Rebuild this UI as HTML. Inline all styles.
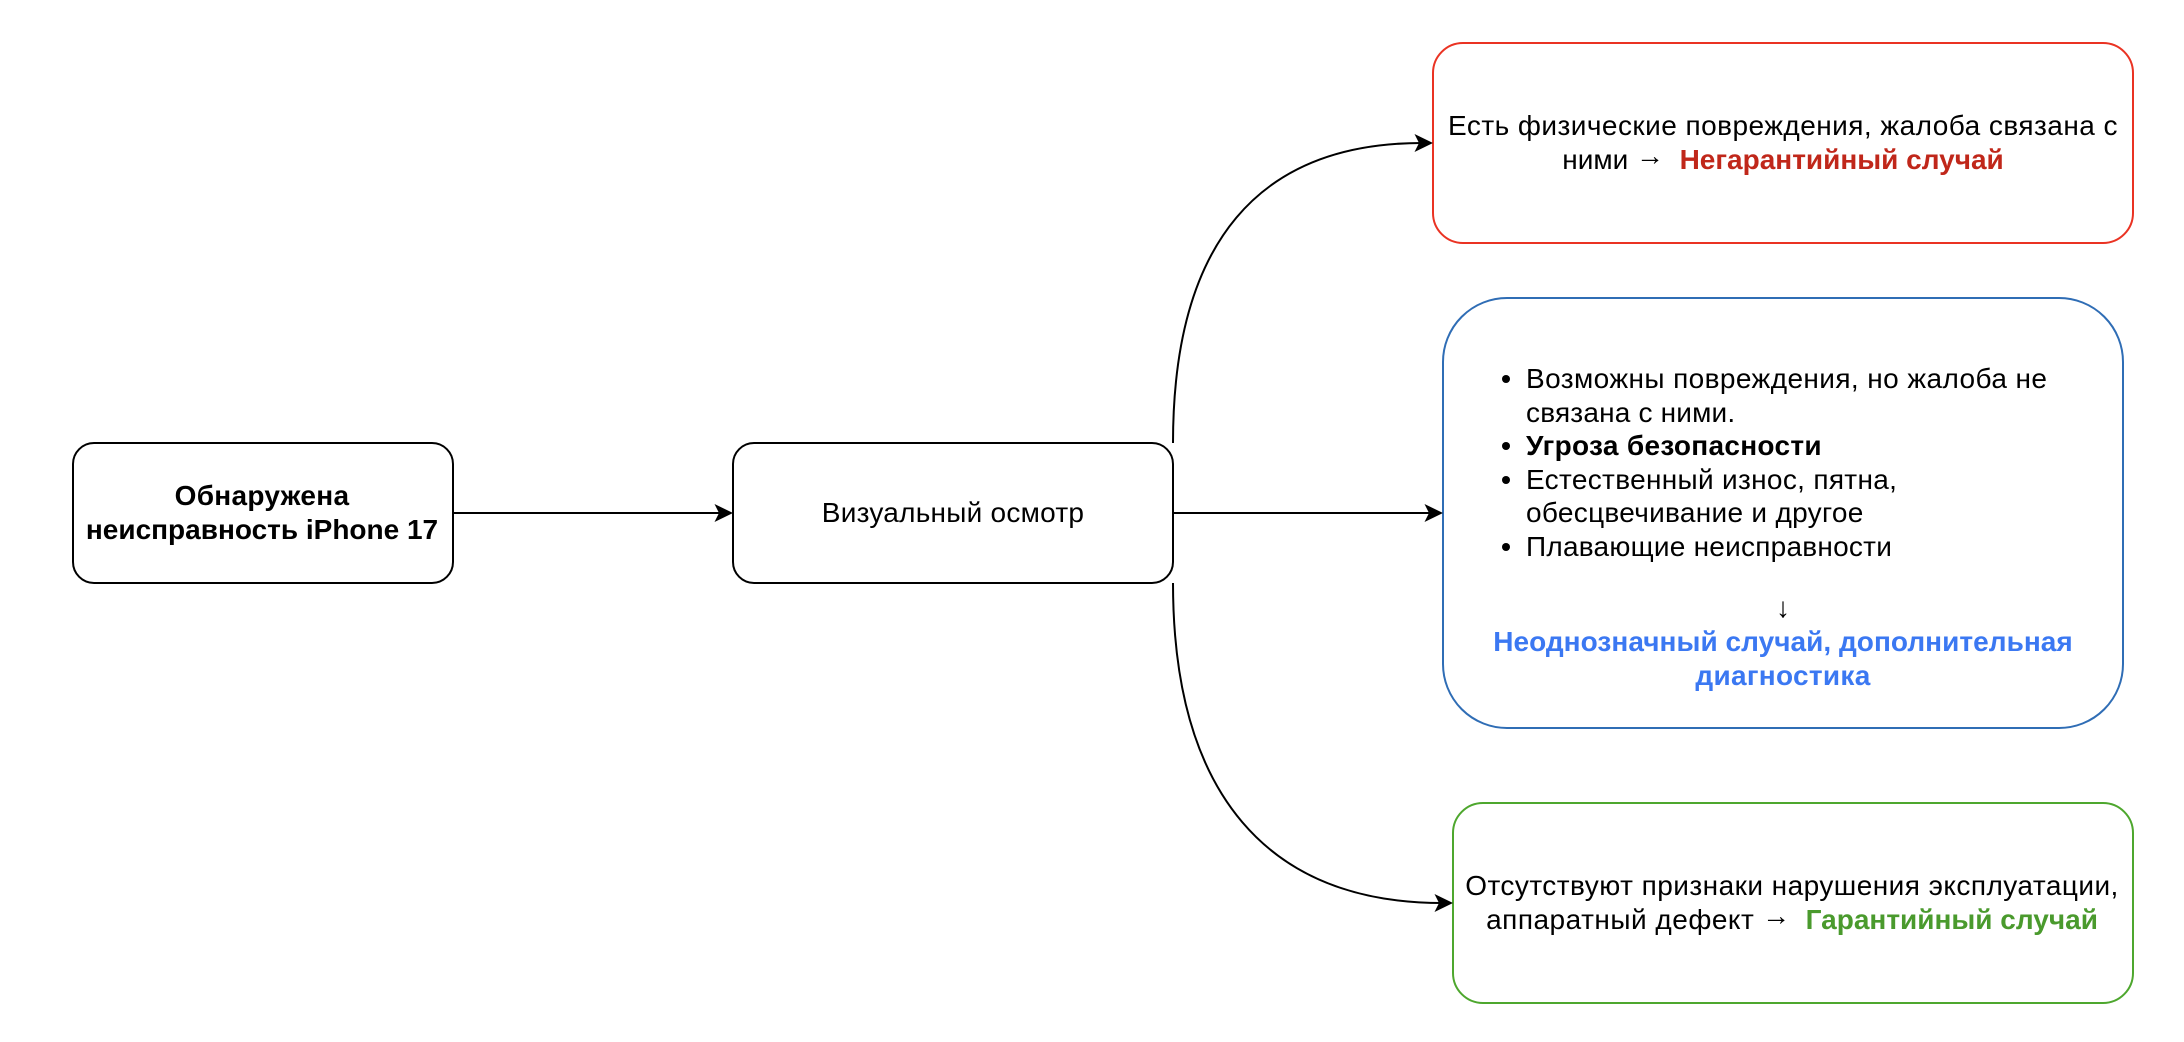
<!DOCTYPE html>
<html lang="ru">
<head>
<meta charset="utf-8">
<title>Диаграмма</title>
<style>
html,body{margin:0;padding:0;background:#fff;}
#c{position:relative;width:2184px;height:1042px;overflow:hidden;background:#fff;font-family:"Liberation Sans",Arial,sans-serif;color:#000;}
svg{position:absolute;left:0;top:0;}
.l{position:absolute;height:34px;line-height:34px;font-size:28px;white-space:pre;}
.m{transform:translateX(-50%);}
b{font-weight:700;}
.r{color:#c0271a;}
.bl{color:#3b78f2;}
.g{color:#4a9a2d;}
.a{position:relative;top:-4px;}
.d{position:absolute;width:8px;height:8px;border-radius:50%;background:#000;}
</style>
</head>
<body>
<div id="c">
<svg width="2184" height="1042" viewBox="0 0 2184 1042" fill="none">
<rect x="73" y="443" width="380" height="140" rx="21" stroke="#000" stroke-width="2" fill="#fff"/>
<rect x="733" y="443" width="440" height="140" rx="21" stroke="#000" stroke-width="2" fill="#fff"/>
<rect x="1433" y="43" width="700" height="200" rx="30" stroke="#ea3323" stroke-width="2" fill="#fff"/>
<rect x="1443" y="298" width="680" height="430" rx="64" stroke="#2f6db5" stroke-width="2" fill="#fff"/>
<rect x="1453" y="803" width="680" height="200" rx="30" stroke="#4ea72e" stroke-width="2" fill="#fff"/>
<path d="M453 513H720" stroke="#000" stroke-width="2"/>
<path d="M733 513L714.500 522L719 513L714.500 504Z" fill="#000"/>
<path d="M1173 513H1430" stroke="#000" stroke-width="2"/>
<path d="M1443 513L1424.500 522L1429 513L1424.500 504Z" fill="#000"/>
<path d="M1173 443C1173 242 1259 143 1422 143" stroke="#000" stroke-width="2"/>
<path d="M1433 143L1414.500 152L1419 143L1414.500 134Z" fill="#000"/>
<path d="M1173 583C1173 794 1268 903 1442 903" stroke="#000" stroke-width="2"/>
<path d="M1453 903L1434.500 912L1439 903L1434.500 894Z" fill="#000"/>
</svg>

<div class="l m" style="left:262px;top:479px;letter-spacing:.3px;"><b>Обнаружена</b></div>
<div class="l m" style="left:262px;top:513px;"><b>неисправность iPhone 17</b></div>
<div class="l m" style="left:953px;top:496px;letter-spacing:.25px;">Визуальный осмотр</div>

<div class="l m" style="left:1783px;top:109px;letter-spacing:.46px;">Есть физические повреждения, жалоба связана с</div>
<div class="l m" style="left:1783px;top:143px;">ними <span class="a">→</span>&nbsp; <b class="r">Негарантийный случай</b></div>

<div class="d" style="left:1502px;top:375px;"></div>
<div class="l" style="left:1526px;top:362px;letter-spacing:.41px;">Возможны повреждения, но жалоба не</div>
<div class="l" style="left:1526px;top:396px;letter-spacing:.19px;">связана с ними.</div>
<div class="d" style="left:1502px;top:442px;"></div>
<div class="l" style="left:1526px;top:429px;letter-spacing:.3px;"><b>Угроза безопасности</b></div>
<div class="d" style="left:1502px;top:476px;"></div>
<div class="l" style="left:1526px;top:463px;letter-spacing:.32px;">Естественный износ, пятна,</div>
<div class="l" style="left:1526px;top:496px;letter-spacing:.3px;">обесцвечивание и другое</div>
<div class="d" style="left:1502px;top:543px;"></div>
<div class="l" style="left:1526px;top:530px;letter-spacing:.24px;">Плавающие неисправности</div>
<div class="l m" style="left:1783px;top:591px;">↓</div>
<div class="l m bl" style="left:1783px;top:625px;letter-spacing:.04px;"><b>Неоднозначный случай, дополнительная</b></div>
<div class="l m bl" style="left:1783px;top:659px;letter-spacing:.3px;"><b>диагностика</b></div>

<div class="l m" style="left:1792px;top:869px;letter-spacing:.46px;">Отсутствуют признаки нарушения эксплуатации,</div>
<div class="l m" style="left:1792px;top:903px;"><span style="letter-spacing:.5px;">аппаратный дефект</span> <span class="a">→</span>&nbsp; <b class="g">Гарантийный случай</b></div>
</div>
</body>
</html>
